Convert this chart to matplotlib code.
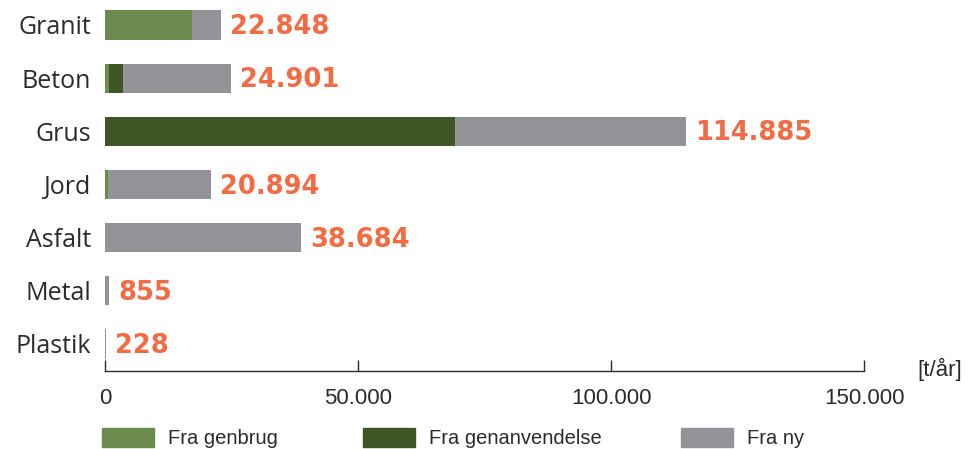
import numpy as np
import matplotlib
matplotlib.use("Agg")
from matplotlib import pyplot as plt
from matplotlib.patches import Rectangle

categories = ["Granit", "Beton", "Grus", "Jord", "Asfalt", "Metal", "Plastik"]
totals = [22848, 24901, 114885, 20894, 38684, 855, 228]
genbrug = [17100, 800, 0, 500, 0, 0, 0]
genanvendelse = [0, 2700, 69200, 0, 0, 0, 0]
series_names = ["Fra genbrug", "Fra genanvendelse", "Fra ny"]
xticks = [0, 50000, 100000, 150000]

ny = [t - a - b for t, a, b in zip(totals, genbrug, genanvendelse)]

c_light = "#6a8a4e"
c_dark = "#3f5526"
c_gray = "#939498"
c_orange = "#f26b43"
c_text = "#2b2b2b"

narrow = ["Liberation Sans", "DejaVu Sans"]
plt.rcParams["font.family"] = ["Open Sans", "DejaVu Sans"]

fig = plt.figure(figsize=(9.71, 4.49), dpi=100)
ax = fig.add_axes([105 / 971, 1 - 371 / 449, (864 - 105) / 971, 371 / 449])

y = np.arange(len(categories))
h = 0.55
left = np.zeros(len(categories))
for vals, col in zip([genbrug, genanvendelse, ny], [c_light, c_dark, c_gray]):
    ax.barh(y, vals, left=left, height=h, color=col, linewidth=0)
    left = left + np.array(vals)

for yi, t in zip(y, totals):
    lab = f"{t:,}".replace(",", ".")
    ax.annotate(lab, (t, yi), xytext=(6.5, -1.5), textcoords="offset points",
                va="center", ha="left", color=c_orange, fontsize=18.5,
                fontweight="bold", family="DejaVu Sans")

ax.set_ylim(6.51, -0.47)
ax.set_xlim(0, 150000)
ax.set_yticks(y)
ax.set_yticklabels(categories, fontsize=18, color=c_text)
ax.tick_params(axis="y", length=0, pad=10)
ax.set_xticks(xticks)
ax.set_xticklabels([f"{v:,}".replace(",", ".") for v in xticks],
                   fontsize=16, color=c_text, family=narrow)
ax.tick_params(axis="x", direction="in", length=8, width=1, color=c_text, pad=12)
for s in ["top", "right", "left"]:
    ax.spines[s].set_visible(False)
ax.spines["bottom"].set_color(c_text)
ax.spines["bottom"].set_linewidth(1)

fig.text(940 / 971, 1 - 369 / 449, "[t/år]", ha="center", va="center",
         fontsize=16, color=c_text, family=narrow)

# legend drawn by hand
leg_x = [102, 363, 681]
for xs, name, col in zip(leg_x, series_names, [c_light, c_dark, c_gray]):
    fig.patches.append(Rectangle((xs / 971, 1 - 447 / 449), 52 / 971, 19 / 449,
                                 transform=fig.transFigure, color=col))
    fig.text((xs + 66) / 971, 1 - 438 / 449, name, ha="left", va="center",
             fontsize=14.5, color=c_text, family=narrow)

fig.savefig("out.png", dpi=100)
